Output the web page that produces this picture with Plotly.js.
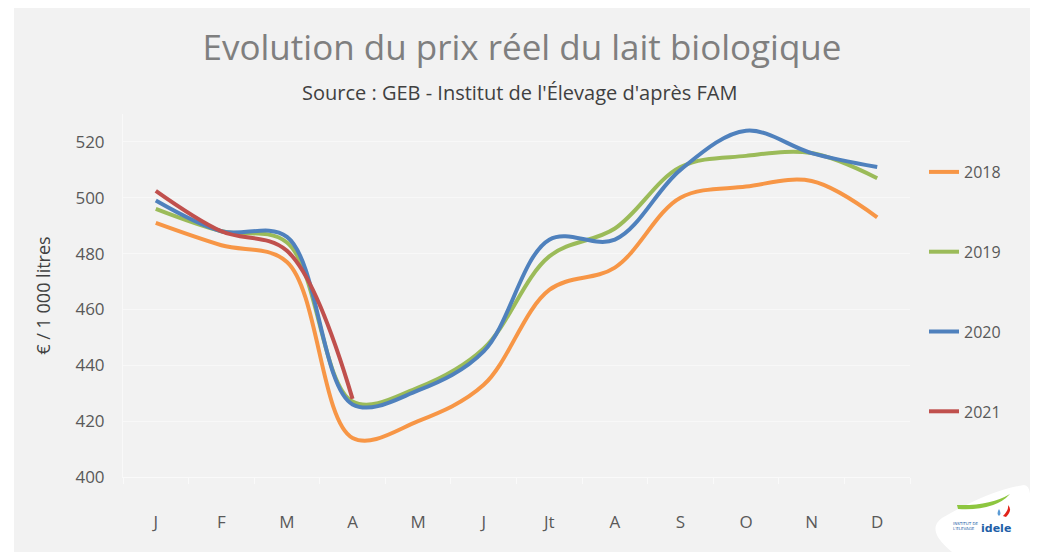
<!DOCTYPE html>
<html>
<head>
<meta charset="utf-8">
<script src="https://cdn.plot.ly/plotly-3.0.1.min.js"></script>
<style>
  html, body { margin: 0; padding: 0; background: #ffffff; }
  #chart { position: absolute; left: 14px; top: 8px; width: 1016px; height: 544px; }
</style>
</head>
<body>
<div id="chart"></div>
<script>
// ---- Data ----
const months = ['J', 'F', 'M', 'A', 'M', 'J', 'Jt', 'A', 'S', 'O', 'N', 'D'];
const y2018 = [491, 483, 477, 414, 420, 433, 467, 475, 500, 504, 506, 493];
const y2019 = [496, 488, 484, 427, 432, 446, 479, 489, 511, 515, 516, 507];
const y2020 = [499, 488, 486, 426, 431, 445, 485, 485, 510, 524, 516, 511];
const y2021 = [502.5, 488, 481, 428];
const seriesNames = ['2018', '2019', '2020', '2021'];
const seriesColors = ['#f79646', '#9bbb59', '#4f81bd', '#c0504d'];
const yTicks = [400, 420, 440, 460, 480, 500, 520];

const xIdx = months.map((_, i) => i);
const allSeries = [y2018, y2019, y2020, y2021];

const traces = allSeries.map((ys, k) => ({
  type: 'scatter',
  mode: 'lines',
  name: seriesNames[k],
  legendgroup: seriesNames[k],
  x: xIdx.slice(0, ys.length),
  y: ys,
  line: { color: seriesColors[k], width: 4, shape: 'spline', smoothing: 1 },
  hoverinfo: 'x+y+name'
}));

// helpers for decoration (logo) in page pixel coords -> paper coords
const PL = 123, PR = 910, PT = 114, PB = 477;
const px = x => (x - PL) / (PR - PL);
const py = y => (PB - y) / (PB - PT);
function path(cmds) {
  return cmds.map(c => {
    if (typeof c === 'string') return c;
    return px(c[0]).toFixed(5) + ',' + py(c[1]).toFixed(5);
  }).join(' ');
}

const FONT = 'Open Sans, Lato, sans-serif';

const layout = {
  width: 1016,
  height: 544,
  paper_bgcolor: '#f2f2f2',
  plot_bgcolor: 'rgba(0,0,0,0)',
  margin: { l: 109, r: 120, t: 106, b: 75 },
  font: { family: FONT, color: '#595959', size: 17 },
  title: {
    text: 'Evolution du prix réel du lait biologique',
    font: { family: FONT, size: 35, color: '#7f7f7f' },
    x: 0.5, xanchor: 'center',
    y: 1 - 40 / 544, yanchor: 'middle', yref: 'container'
  },
  annotations: [
    {
      text: "Source : GEB - Institut de l'Élevage d'après FAM",
      xref: 'paper', yref: 'paper',
      x: px(520), y: py(92), xanchor: 'center', yanchor: 'middle',
      showarrow: false,
      font: { family: FONT, size: 20, color: '#404040' }
    },
    {
      text: 'INSTITUT DE<br>L\'ELEVAGE',
      xref: 'paper', yref: 'paper',
      x: px(966), y: py(526), xanchor: 'center', yanchor: 'middle',
      showarrow: false, align: 'left',
      font: { family: 'DejaVu Sans', size: 4, color: '#1f5fa8' }
    },
    {
      text: '<b>idele</b>',
      xref: 'paper', yref: 'paper',
      x: px(996), y: py(528), xanchor: 'center', yanchor: 'middle',
      showarrow: false,
      font: { family: 'DejaVu Sans', size: 11, color: '#1f5fa8' }
    }
  ],
  shapes: [
    { // white blob behind logo
      type: 'path', xref: 'paper', yref: 'paper', layer: 'above',
      path: path(['M', [952, 552], 'Q', [925, 530], [942, 518], 'Q', [990, 490], [1024, 485], 'Q', [1031, 486], [1030, 500], 'L', [1030, 552], 'Z']),
      fillcolor: '#ffffff', line: { width: 0 }
    },
    { // green swoosh
      type: 'path', xref: 'paper', yref: 'paper', layer: 'above',
      path: path(['M', [957, 505], 'Q', [990, 506], [1010, 494], 'Q', [995, 511], [958, 509], 'Z']),
      fillcolor: '#8dc63f', line: { width: 0 }
    },
    { // red swoosh
      type: 'path', xref: 'paper', yref: 'paper', layer: 'above',
      path: path(['M', [1003, 516], 'Q', [1009, 510], [1008, 505], 'Q', [1013, 510], [1006, 517], 'Z']),
      fillcolor: '#e2231a', line: { width: 0 }
    },
    { // blue drop
      type: 'path', xref: 'paper', yref: 'paper', layer: 'above',
      path: path(['M', [999, 509], 'Q', [996, 514], [999, 516], 'Q', [1002, 514], [999, 509], 'Z']),
      fillcolor: '#5b9bd5', line: { width: 0 }
    }
  ],
  xaxis: {
    range: [-0.5, 11.5],
    tickvals: xIdx,
    ticktext: months,
    showgrid: false,
    zeroline: false,
    showline: true,
    linecolor: '#fafafa',
    linewidth: 1,
    ticks: '',
    ticklabelstandoff: 30,
    tickfont: { family: FONT, size: 17, color: '#595959' },
    minor: {
      tickvals: months.map((_, i) => i - 0.5).concat([months.length - 0.5]),
      ticks: 'outside', ticklen: 6, tickcolor: '#fafafa', showgrid: false
    },
    fixedrange: true
  },
  yaxis: {
    range: [400, 530],
    tickvals: yTicks,
    showgrid: true,
    gridcolor: '#f8f8f8',
    gridwidth: 1,
    zeroline: false,
    showline: true,
    linecolor: '#f9f9f9',
    ticks: '',
    ticklabelstandoff: 14,
    tickfont: { family: FONT, size: 17, color: '#595959' },
    title: {
      text: '€ / 1 000 litres',
      font: { family: FONT, size: 18, color: '#404040' },
      standoff: 20
    },
    fixedrange: true
  },
  showlegend: true,
  legend: {
    x: px(924), xanchor: 'left',
    y: py(155), yanchor: 'top',
    bgcolor: 'rgba(0,0,0,0)',
    font: { family: FONT, size: 16, color: '#595959' },
    tracegroupgap: 56,
    traceorder: 'grouped'
  },
  hovermode: 'closest'
};

Plotly.newPlot('chart', traces, layout, { displayModeBar: false, staticPlot: false });
</script>
</body>
</html>
